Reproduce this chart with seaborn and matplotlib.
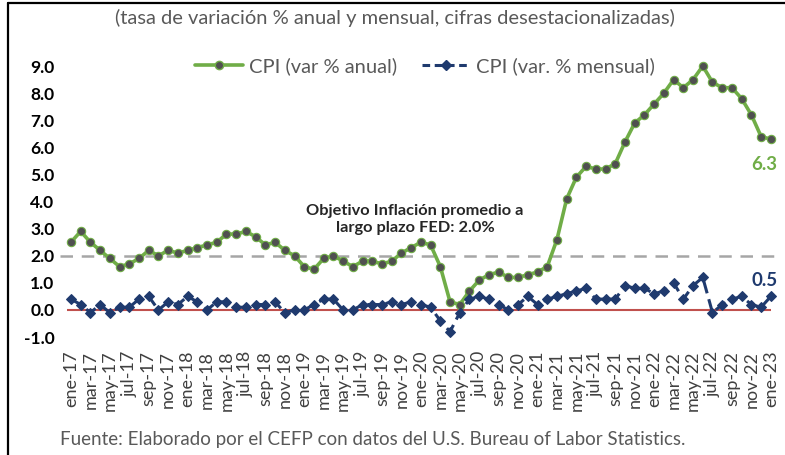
import matplotlib
matplotlib.use("Agg")
import matplotlib.pyplot as plt
import seaborn as sns
import pandas as pd
from matplotlib.lines import Line2D

meses = ["ene", "feb", "mar", "abr", "may", "jun", "jul", "ago", "sep", "oct", "nov", "dic"]
periodos = [f"{m}-{a}" for a in range(17, 23) for m in meses] + ["ene-23"]

cpi_anual = [2.5, 2.9, 2.5, 2.2, 1.9, 1.6, 1.7, 1.9, 2.2, 2.0, 2.2, 2.1,
             2.2, 2.3, 2.4, 2.5, 2.8, 2.8, 2.9, 2.7, 2.4, 2.5, 2.2, 2.0,
             1.6, 1.5, 1.9, 2.0, 1.8, 1.6, 1.8, 1.8, 1.7, 1.8, 2.1, 2.3,
             2.5, 2.4, 1.6, 0.3, 0.2, 0.7, 1.1, 1.3, 1.4, 1.2, 1.2, 1.3,
             1.4, 1.6, 2.6, 4.1, 4.9, 5.3, 5.2, 5.2, 5.4, 6.2, 6.9, 7.2,
             7.6, 8.0, 8.5, 8.2, 8.5, 9.0, 8.4, 8.2, 8.2, 7.8, 7.2, 6.4,
             6.3]
cpi_mensual = [0.4, 0.2, -0.1, 0.2, -0.1, 0.1, 0.1, 0.4, 0.5, 0.0, 0.3, 0.2,
               0.5, 0.3, 0.0, 0.3, 0.3, 0.1, 0.1, 0.2, 0.2, 0.3, -0.1, 0.0,
               0.0, 0.2, 0.4, 0.4, 0.0, 0.0, 0.2, 0.2, 0.2, 0.3, 0.2, 0.3,
               0.2, 0.1, -0.4, -0.8, -0.1, 0.4, 0.5, 0.4, 0.2, 0.0, 0.2, 0.5,
               0.2, 0.4, 0.5, 0.6, 0.7, 0.8, 0.4, 0.4, 0.4, 0.9, 0.8, 0.8,
               0.6, 0.7, 1.0, 0.4, 0.9, 1.2, -0.1, 0.2, 0.4, 0.5, 0.2, 0.1,
               0.5]
objetivo_fed = 2.0

df = pd.DataFrame({"i": range(len(periodos)), "periodo": periodos,
                   "anual": cpi_anual, "mensual": cpi_mensual})

sns.set_theme(style="white")
plt.rcParams['font.family'] = ['Lato', 'DejaVu Sans']

verde = "#70AD47"
azul = "#1F3A6E"
gris_txt = "#595959"

fig = plt.figure(figsize=(7.85, 4.55), dpi=100)
ax = fig.add_axes([0.0764, 0.2413, 0.921, 0.6433])

ax.axhline(objetivo_fed, color="#A6A6A6", lw=1.8, ls=(0, (5, 3.5)), zorder=1)
ax.hlines(0, -0.4, len(periodos) - 1, color="#C0504D", lw=1.5, zorder=1)

sns.lineplot(data=df, x="i", y="anual", ax=ax, color=verde, lw=2.6,
             marker="o", markersize=6, markerfacecolor="#505050",
             markeredgecolor=verde, markeredgewidth=0.8, zorder=3)
sns.lineplot(data=df, x="i", y="mensual", ax=ax, color=azul, lw=2.2,
             linestyle=(0, (4, 2)), marker="D", markersize=4.6,
             markerfacecolor=azul, markeredgecolor=azul, zorder=3)

ax.set_xlim(-1.13, 73.25)
ax.set_ylim(-1.3, 9.5)
ax.set_yticks([-1, 0, 1, 2, 3, 4, 5, 6, 7, 8, 9])
ax.set_yticklabels([f"{v:.1f}" for v in range(-1, 10)], fontweight="bold",
                   fontsize=12.5, color="black")
ax.set_xticks(df["i"][::2])
ax.set_xticklabels(df["periodo"][::2], rotation=90, fontsize=13, color="#404040")
ax.tick_params(axis="both", length=0, pad=4)
ax.set_xlabel("")
ax.set_ylabel("")
for s in ax.spines.values():
    s.set_visible(False)

ax.text(35.4, 3.35, "Objetivo Inflación promedio a\nlargo plazo FED: 2.0%",
        ha="center", va="center", fontsize=11.8, fontweight="bold",
        color="#262626", linespacing=1.25)
ax.text(72.7, cpi_anual[-1] - 0.95, f"{cpi_anual[-1]:.1f}", ha="right",
        va="center", fontsize=13.5, fontweight="bold", color=verde)
ax.text(72.7, cpi_mensual[-1] + 0.6, f"{cpi_mensual[-1]:.1f}", ha="right",
        va="center", fontsize=13.5, fontweight="bold", color=azul)

handles = [Line2D([], [], color=verde, lw=2.6, marker="o", markersize=6,
                  markerfacecolor="#505050", markeredgecolor=verde),
           Line2D([], [], color=azul, lw=2.2, ls=(0, (2.5, 1.5)), marker="D",
                  markersize=4.6, markerfacecolor=azul)]
ax.legend(handles, ["CPI (var % anual)", "CPI (var. % mensual)"], ncol=2,
          loc="center", bbox_to_anchor=(0.505, 0.954), frameon=False,
          fontsize=14.5, labelcolor=gris_txt, handlelength=2.4,
          columnspacing=1.2, handletextpad=0.3)

fig.text(0.503, 0.96, "(tasa de variación % anual y mensual, cifras desestacionalizadas)",
         ha="center", va="center", fontsize=14.5, color=gris_txt)
fig.text(0.076, 0.033, "Fuente: Elaborado por el CEFP con datos del U.S. Bureau of Labor Statistics.",
         ha="left", va="center", fontsize=13.5, color=gris_txt)

fig.add_artist(Line2D([8 / 785, 8 / 785], [0, 1 - 3 / 455], color="black",
                      lw=1.6, transform=fig.transFigure))
fig.add_artist(Line2D([8 / 785, 1], [1 - 3 / 455, 1 - 3 / 455], color="black",
                      lw=1.6, transform=fig.transFigure))

fig.savefig("out.png", dpi=100)
